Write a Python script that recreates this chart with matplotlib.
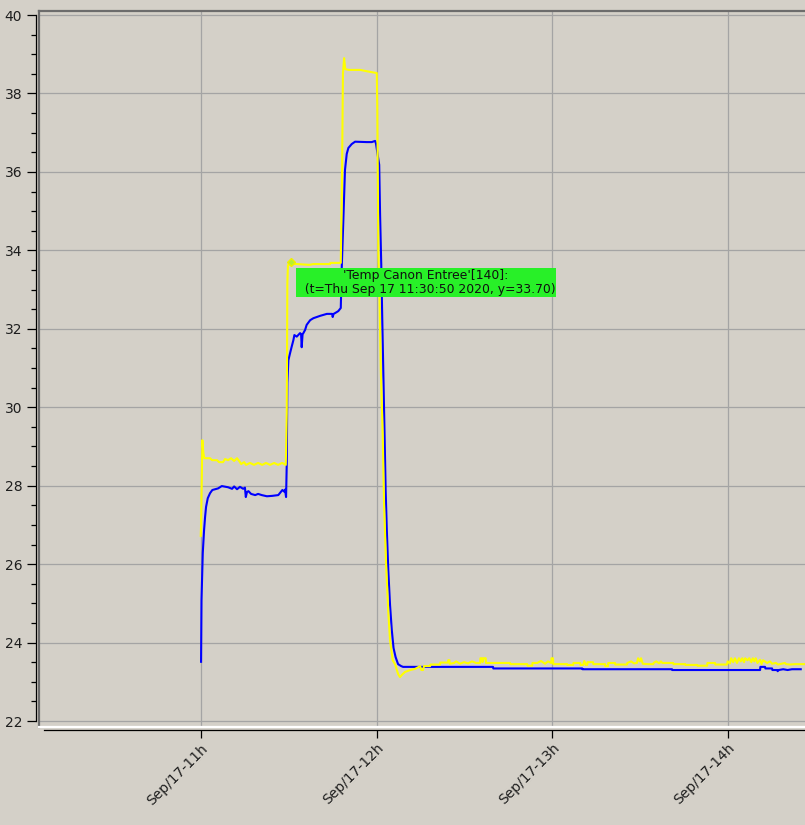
import matplotlib
matplotlib.use("Agg")
import matplotlib.pyplot as plt
import matplotlib.dates as mdates
from matplotlib.ticker import MultipleLocator
from matplotlib.lines import Line2D
import pandas as pd

# ---------------- data (minutes after 2020-09-17 11:00) ----------------
base_time = "2020-09-17 11:00:00"

blue_min = [0.0, 0.15, 0.58, 1.03, 1.37, 1.71, 2.29, 3.08, 3.86, 5.81, 7.08, 9.23, 10.6, 11.3,
            12.3, 13.3, 14.4, 15.0, 15.3, 15.7, 16.2, 17.1, 18.5, 19.5, 20.75, 22.5, 24.3, 26.4,
            27.8, 28.4, 28.7, 29.06, 29.3, 29.5, 29.85, 30.43, 31.0, 31.56, 31.9, 32.7, 33.85,
            34.2, 34.4, 34.7, 34.97, 35.56, 36.1, 37.3, 38.4, 40.7, 43.0, 44.8, 45.0, 45.3, 45.8,
            46.9, 47.76, 48.1, 48.65, 49.2, 49.8, 50.36, 51.5, 52.65, 56.65, 58.36, 59.5, 59.8,
            60.9, 61.2, 61.6, 61.95, 62.36, 62.77, 63.1, 63.5, 64.0, 64.6, 65.2, 65.8, 66.5,
            67.35, 68.4, 69.06, 99.8, 99.9, 130.3, 130.4, 161.0, 161.1, 191.1, 191.2, 192.8,
            192.9, 195.2, 195.3, 197.0, 197.1, 197.5, 199.0, 200.5, 202.0, 205.0]
blue_val = [23.51, 25.08, 26.28, 26.87, 27.20, 27.46, 27.68, 27.81, 27.89, 27.93, 27.99, 27.96,
            27.92, 27.98, 27.91, 27.97, 27.92, 27.95, 27.71, 27.84, 27.86, 27.79, 27.76, 27.79,
            27.76, 27.73, 27.74, 27.76, 27.89, 27.85, 27.90, 27.71, 28.58, 30.62, 31.20, 31.38,
            31.55, 31.71, 31.84, 31.80, 31.89, 31.86, 31.53, 31.86, 31.89, 31.97, 32.10, 32.22,
            32.27, 32.33, 32.38, 32.38, 32.30, 32.38, 32.40, 32.45, 32.53, 33.57, 34.80, 36.05,
            36.46, 36.61, 36.71, 36.77, 36.76, 36.76, 36.79, 36.72, 36.18, 34.90, 33.63, 32.22,
            30.69, 29.16, 27.89, 26.87, 25.85, 24.96, 24.32, 23.86, 23.63, 23.45, 23.40, 23.38,
            23.38, 23.34, 23.34, 23.32, 23.32, 23.30, 23.30, 23.38, 23.38, 23.34, 23.34, 23.30,
            23.30, 23.27, 23.30, 23.32, 23.30, 23.32, 23.32]

yellow_min = [-0.1, 0.0, 0.44, 0.79, 1.13, 3.08, 3.76, 5.47, 6.15, 7.5, 8.2, 9.23, 10.26, 11.3,
              12.3, 13.3, 13.7, 14.7, 15.4, 16.75, 18.1, 19.5, 20.9, 22.2, 23.6, 25.0, 26.3,
              27.7, 28.96, 29.3, 29.5, 29.7, 30.83, 37.0, 38.4, 44.1, 44.2, 47.76, 48.2, 48.5,
              48.9, 49.3, 50.5, 54.4, 57.8, 60.07, 60.25, 60.6, 60.95, 61.45, 62.1, 62.56,
              63.25, 64.0, 64.6, 65.5, 66.3, 67.35, 68.0, 68.7, 69.7, 71.5, 73.2, 74.9, 75.3,
              75.9, 76.2, 78.3, 78.4, 81.7, 81.8, 84.4, 84.5, 84.9, 85.0, 86.5, 87.2, 88.5,
              89.9, 91.3, 92.6, 94.0, 95.4, 95.5, 96.1, 96.2, 96.6, 97.3, 97.4, 105.6, 105.7,
              111.5, 111.6, 113.2, 113.3, 114.9, 116.2, 117.6, 118.6, 119.7, 119.8, 120.3,
              120.4, 125.1, 125.2, 127.2, 127.3, 129.6, 129.7, 130.6, 131.0, 131.5, 132.0,
              132.1, 134.0, 134.1, 138.1, 138.2, 139.1, 139.2, 141.5, 141.6, 145.6, 145.7,
              147.0, 148.0, 149.0, 149.4, 150.0, 150.4, 151.0, 152.8, 154.6, 154.7, 155.6,
              156.6, 157.2, 157.7, 161.4, 161.5, 165.5, 165.6, 169.6, 169.7, 173.0, 173.1,
              175.7, 175.8, 179.8, 180.0, 180.8, 181.2, 181.9, 182.5, 183.2, 183.9, 184.5,
              185.0, 185.6, 186.0, 186.8, 187.4, 188.1, 188.6, 189.1, 189.6, 190.2, 191.1,
              191.6, 192.1, 193.5, 194.5, 195.2, 196.5, 197.2, 199.6, 200.0, 201.3, 203.0,
              206.5, 208.0]
yellow_val = [26.72, 26.97, 29.16, 28.83, 28.70, 28.70, 28.65, 28.65, 28.60, 28.60, 28.68, 28.65,
              28.70, 28.63, 28.70, 28.60, 28.55, 28.60, 28.53, 28.58, 28.53, 28.58, 28.53, 28.58,
              28.53, 28.58, 28.53, 28.58, 28.53, 29.85, 33.17, 33.62, 33.66, 33.63, 33.65, 33.65,
              33.68, 33.68, 36.00, 38.50, 38.90, 38.62, 38.60, 38.60, 38.55, 38.52, 37.60, 33.90,
              32.96, 30.92, 29.29, 27.53, 26.00, 24.78, 24.06, 23.55, 23.45, 23.20, 23.12, 23.18,
              23.25, 23.30, 23.33, 23.40, 23.30, 23.30, 23.40, 23.40, 23.44, 23.44, 23.49, 23.49,
              23.55, 23.55, 23.46, 23.48, 23.52, 23.46, 23.50, 23.47, 23.52, 23.48, 23.48, 23.60,
              23.60, 23.50, 23.60, 23.60, 23.48, 23.48, 23.45, 23.45, 23.41, 23.41, 23.48, 23.48,
              23.53, 23.46, 23.52, 23.48, 23.60, 23.60, 23.45, 23.45, 23.43, 23.43, 23.48, 23.48,
              23.43, 23.43, 23.53, 23.43, 23.43, 23.50, 23.50, 23.45, 23.45, 23.40, 23.40, 23.48,
              23.48, 23.44, 23.44, 23.48, 23.52, 23.47, 23.48, 23.60, 23.52, 23.60, 23.46, 23.45,
              23.45, 23.48, 23.52, 23.47, 23.52, 23.48, 23.48, 23.45, 23.45, 23.43, 23.43, 23.41,
              23.41, 23.48, 23.48, 23.44, 23.44, 23.52, 23.47, 23.60, 23.50, 23.60, 23.48, 23.60,
              23.52, 23.60, 23.50, 23.60, 23.55, 23.60, 23.50, 23.60, 23.52, 23.60, 23.48, 23.56,
              23.45, 23.55, 23.48, 23.52, 23.46, 23.48, 23.44, 23.48, 23.45, 23.44, 23.45, 23.45,
              23.45]

marker_min = 30.8333
marker_val = 33.70
tooltip_text = "'Temp Canon Entree'[140]:\n  (t=Thu Sep 17 11:30:50 2020, y=33.70)"

y_ticks = [22, 24, 26, 28, 30, 32, 34, 36, 38, 40]
x_tick_hours = ["2020-09-17 11:00", "2020-09-17 12:00", "2020-09-17 13:00", "2020-09-17 14:00"]
x_range_min = [-55.4, 215.0]
y_range = [21.86, 40.115]

# ---------------- figure ----------------
BG = "#d4d0c8"
W, H = 805, 825
fig = plt.figure(figsize=(W / 100, H / 100), dpi=100, facecolor=BG)
ax_left, ax_right, ax_top, ax_bottom = 39, 830, 10.5, 726.5
ax = fig.add_axes([ax_left / W, 1 - ax_bottom / H, (ax_right - ax_left) / W, (ax_bottom - ax_top) / H])
ax.set_facecolor(BG)

t0 = pd.Timestamp(base_time)
to_t = lambda mins: t0 + pd.to_timedelta(mins, unit="min")
blue_t = to_t(pd.Series(blue_min))
yellow_t = to_t(pd.Series(yellow_min))

ax.plot(blue_t, blue_val, color="#0000ff", lw=1.5, zorder=3)
ax.plot(yellow_t, yellow_val, color="#ffff00", lw=1.5, zorder=4)
mt = to_t(marker_min)
ax.plot([mt], [marker_val], marker="D", ms=4.5, mfc="#b8f030", mec="#f0f000", mew=1.0, zorder=5)

ax.annotate(tooltip_text, xy=(mt, marker_val), xytext=(3.9, -5.0), textcoords="offset points",
            ha="left", va="top", multialignment="center", fontsize=8.9, color="#101010",
            linespacing=1.05, family="DejaVu Sans",
            bbox=dict(boxstyle="square,pad=0.08", fc="#28f028", ec="none"), zorder=6)

ax.set_xlim(to_t(x_range_min[0]), to_t(x_range_min[1]))
ax.set_ylim(*y_range)

# grid
ax.set_yticks(y_ticks)
ax.yaxis.set_minor_locator(MultipleLocator(0.5))
ax.set_xticks([pd.Timestamp(s) for s in x_tick_hours])
ax.xaxis.set_major_formatter(mdates.DateFormatter("%b/%d-%Hh"))
ax.grid(True, which="major", color="#a4a4a4", lw=0.9, zorder=1)
ax.set_axisbelow(True)

# spines
for s in ["top", "right"]:
    ax.spines[s].set_visible(False)
ax.spines["left"].set_position(("outward", 2.4))
ax.spines["left"].set_bounds(22, 40)
ax.spines["left"].set_color("black")
ax.spines["left"].set_linewidth(0.9)
ax.spines["bottom"].set_position(("outward", 2.6))
ax.spines["bottom"].set_bounds(mdates.date2num(to_t(-53.7)), mdates.date2num(to_t(x_range_min[1])))
ax.spines["bottom"].set_color("black")
ax.spines["bottom"].set_linewidth(0.9)

# frame (sunken look)
ax.add_line(Line2D([0, 0], [0, 1], transform=ax.transAxes, color="#6c6c6c", lw=1.6, clip_on=False, zorder=7))
ax.add_line(Line2D([0, 1], [1, 1], transform=ax.transAxes, color="#6c6c6c", lw=1.6, clip_on=False, zorder=7))
ax.add_line(Line2D([0, 1], [0, 0], transform=ax.transAxes, color="white", lw=1.6, clip_on=False, zorder=7))

ax.tick_params(axis="y", which="major", direction="out", length=6.5, width=0.9, pad=3.2,
               labelsize=10, labelcolor="#1e1e1e")
ax.tick_params(axis="y", which="minor", direction="out", length=3.5, width=0.9)
ax.tick_params(axis="x", which="major", direction="out", length=6.0, width=0.9, pad=2,
               labelsize=10, labelcolor="#1e1e1e")
for lab in ax.get_xticklabels():
    lab.set_rotation(45)
    lab.set_ha("right")
    lab.set_va("top")
    lab.set_rotation_mode("anchor")

fig.savefig("out.png", dpi=100, facecolor=BG)
